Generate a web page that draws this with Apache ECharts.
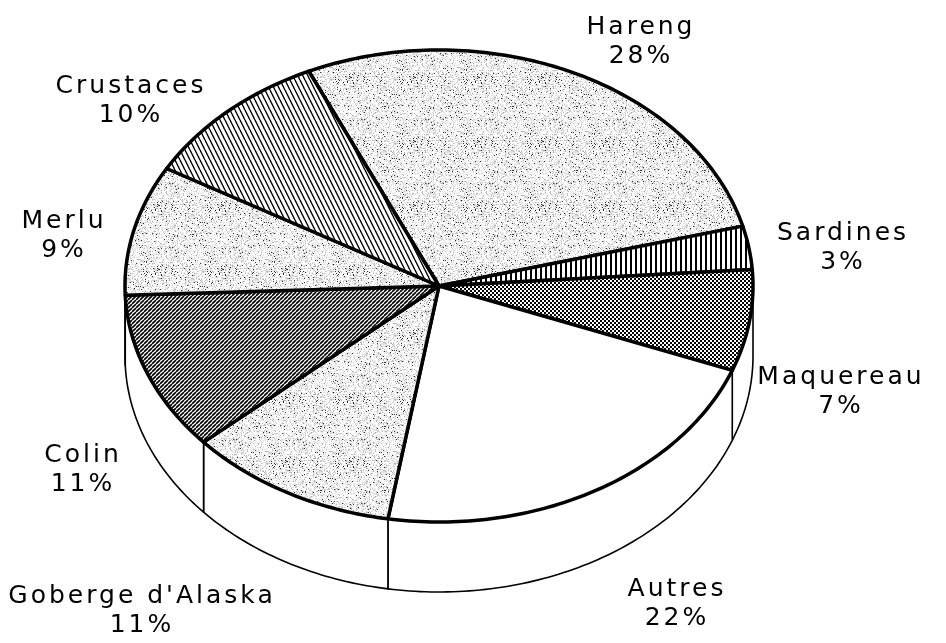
<!DOCTYPE html>
<html>
<head>
<meta charset="utf-8">
<script src="https://cdn.jsdelivr.net/npm/echarts@6/dist/echarts.min.js"></script>
<style>
  html, body { margin: 0; padding: 0; background: #ffffff; }
  #chart { width: 946px; height: 643px; }
</style>
</head>
<body>
<div id="chart"></div>
<script>
// ---- data ----
const categories = ['Hareng', 'Sardines', 'Maquereau', 'Autres', "Goberge d'Alaska", 'Colin', 'Merlu', 'Crustaces'];
const shares = [28, 3, 7, 22, 11, 11, 9, 10];
const percentLabels = shares.map(v => v + '%');

// ---- styles / layout (kept apart from data) ----
const fillKinds = ['stipple', 'vlines', 'checker', 'white', 'stipple', 'diag', 'stipple', 'steep'];
const labelAnchors = [[641, 42], [843, 248], [841, 392], [677, 604], [142, 611], [83, 470], [64, 236], [131, 101]];
const GEO = { cx: 439, cy: 286, rx: 314, ry: 236, depth: 70, start: -24.5 };

// wide letter spacing like the original typesetting
(function () {
  const P = CanvasRenderingContext2D.prototype;
  const orig = P.fillText;
  P.fillText = function () { this.letterSpacing = '3px'; return orig.apply(this, arguments); };
})();

// ---- pattern tiles ----
function tile(w, h, draw) {
  const c = document.createElement('canvas');
  c.width = w; c.height = h;
  const g = c.getContext('2d');
  draw(g, w, h);
  return { image: c, repeat: 'repeat' };
}
function hash(x, y) {
  let h = Math.imul(x, 374761393) ^ Math.imul(y, 668265263);
  h = Math.imul(h ^ (h >>> 13), 1274126177);
  h = h ^ (h >>> 16);
  return ((h >>> 0) % 1000) / 1000;
}
const patterns = {
  white: '#ffffff',
  stipple: tile(64, 64, (g, w, h) => {
    g.fillStyle = '#ffffff'; g.fillRect(0, 0, w, h);
    for (let y = 0; y < h; y++) for (let x = 0; x < w; x++) {
      const r = hash(x + 7, y + 3);
      if (r < 0.04) { g.fillStyle = '#333333'; g.fillRect(x, y, 1, 1); }
      else if (r < 0.16) { g.fillStyle = '#b4b4b4'; g.fillRect(x, y, 1, 1); }
      else if (r < 0.45) { g.fillStyle = '#e2e2e2'; g.fillRect(x, y, 1, 1); }
    }
  }),
  vlines: tile(5, 4, (g, w, h) => {
    g.fillStyle = '#ffffff'; g.fillRect(0, 0, w, h);
    g.fillStyle = '#000000'; g.fillRect(0, 0, 2, h);
  }),
  checker: tile(4, 4, (g, w, h) => {
    g.fillStyle = '#ffffff'; g.fillRect(0, 0, w, h);
    g.fillStyle = '#000000'; g.fillRect(0, 0, 2, 2); g.fillRect(2, 2, 2, 2);
  }),
  diag: tile(4, 4, (g, w, h) => {
    g.fillStyle = '#ffffff'; g.fillRect(0, 0, w, h);
    g.strokeStyle = '#000000'; g.lineWidth = 1.6;
    for (let k = -1; k <= 1; k++) { g.beginPath(); g.moveTo(k * 4, 4); g.lineTo(k * 4 + 4, 0); g.stroke(); }
  }),
  steep: tile(5, 10, (g, w, h) => {
    g.fillStyle = '#ffffff'; g.fillRect(0, 0, w, h);
    g.strokeStyle = '#000000'; g.lineWidth = 1.4;
    for (let k = -1; k <= 1; k++) { g.beginPath(); g.moveTo(k * 5, 0); g.lineTo(k * 5 + 5, 10); g.stroke(); }
  })
};

const total = shares.reduce((a, b) => a + b, 0);
function pt(t, dy) {
  const r = t * Math.PI / 180;
  return [GEO.cx + GEO.rx * Math.sin(r), GEO.cy - GEO.ry * Math.cos(r) + dy];
}
function arc(a, b, dy) {
  const pts = [];
  const n = Math.max(2, Math.ceil(Math.abs(b - a)));
  for (let k = 0; k <= n; k++) pts.push(pt(a + (b - a) * k / n, dy));
  return pts;
}

function renderItem(params, api) {
  const i = params.dataIndex;
  let before = 0;
  for (let k = 0; k < i; k++) before += shares[k];
  const a0 = GEO.start + 360 * before / total;
  const a1 = a0 + 360 * api.value(0) / total;
  const children = [];
  // side wall (front half only: 90..270 deg clockwise from top)
  for (const off of [-360, 0, 360]) {
    const s0 = Math.max(a0, 90 + off), s1 = Math.min(a1, 270 + off);
    if (s1 > s0) {
      const pts = arc(s0, s1, 0).concat(arc(s1, s0, GEO.depth));
      children.push({
        type: 'polygon', shape: { points: pts },
        style: { fill: '#ffffff', stroke: '#000000', lineWidth: 1.6, lineJoin: 'round' }, z2: 1
      });
    }
  }
  // top face
  const topPts = [[GEO.cx, GEO.cy]].concat(arc(a0, a1, 0));
  children.push({
    type: 'polygon', shape: { points: topPts },
    style: { fill: patterns[fillKinds[i]], stroke: '#000000', lineWidth: 3.5, lineJoin: 'round' }, z2: 2
  });
  // label
  children.push({
    type: 'text', x: labelAnchors[i][0], y: labelAnchors[i][1], z2: 5,
    style: {
      text: categories[i] + '\n' + percentLabels[i],
      fill: '#000000', fontSize: 25, fontFamily: '"DejaVu Sans", sans-serif',
      align: 'center', verticalAlign: 'middle', lineHeight: 29
    }
  });
  return { type: 'group', children };
}

const chart = echarts.init(document.getElementById('chart'), null, { renderer: 'canvas' });
chart.setOption({
  backgroundColor: '#ffffff',
  animation: false,
  series: [{
    type: 'custom',
    coordinateSystem: 'none',
    renderItem: renderItem,
    data: shares.map((v, i) => ({ name: categories[i], value: [v] }))
  }]
});
</script>
</body>
</html>
